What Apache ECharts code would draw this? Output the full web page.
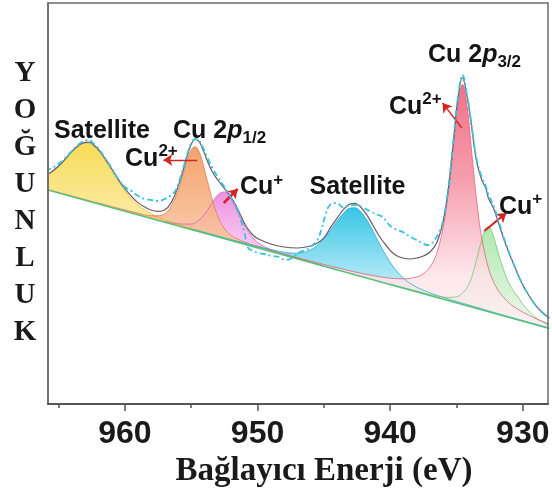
<!DOCTYPE html>
<html>
<head>
<meta charset="utf-8">
<script src="https://cdn.jsdelivr.net/npm/echarts@6.0.0/dist/echarts.min.js"></script>
<style>
  html, body { margin: 0; padding: 0; background: #ffffff; }
  #chart { width: 552px; height: 491px; }
</style>
</head>
<body>
<div id="chart"></div>
<script>
// Cu 2p core-level spectrum: binding energy (eV) against intensity (a.u.)

const majorTicks = [930, 940, 950, 960];
const minorTicks = [935, 945, 955, 965];

// Linear background under the fit
const background = [[966, 214.7], [928, 75.6]];

// Fitted components, [binding energy, intensity]
const satelliteHigh = [[966,227.8],[965.5,231.9],[965,237.5],[964.5,244.4],[964,251.6],[963.5,257.7],[963,260.8],[962.7,260.6],[962.4,258.6],[962,253.4],[961.5,244.2],[961,233.4],[960.5,222.7],[960,213.1],[959.5,205.1],[959,198.7],[958,189.9],[957,184.2],[956,179.8],[954,171.8],[950,156.6],[945,138.1]];

const cu2Half = [[966,215.1],[963,204.4],[961,197.5],[959,190.8],[958,188.3],[957.5,188.2],[957,190.4],[956.5,198.0],[956,213.4],[955.6,230.7],[955.2,248.0],[954.95,255.3],[954.7,257.3],[954.45,253.4],[954.2,244.3],[953.8,224.1],[953.4,203.8],[953,187.9],[952.5,175.4],[952,168.6],[951,162.0],[950,157.5],[948,149.5],[945,138.2]];

const cu1Half = [[957,182.7],[956,180.1],[955,179.9],[954.5,183.1],[954,189.8],[953.5,199.4],[953,209.0],[952.5,212.1],[952,205.3],[951.5,192.1],[951,178.8],[950.5,168.4],[950,161.6],[949,154.5],[948,149.8],[946,141.9],[944,134.4]];

const satelliteLow = [[955,175.0],[950,157.6],[948,151.8],[947,150.8],[946,154.3],[945.5,158.7],[945,165.4],[944.5,173.7],[944,183.0],[943.5,191.1],[943,196.0],[942.65,196.2],[942.3,193.4],[941.8,184.9],[941.3,173.1],[940.8,160.1],[940.3,148.2],[939.8,137.9],[939.3,129.8],[938.5,120.7],[937.5,113.8],[936,106.6],[934,98.7],[932,90.9],[930,83.4],[928,76.0]];

const cu2ThreeHalf = [[948,149.9],[944,136.3],[941,127.7],[939,125.2],[938,127.1],[937.5,130.3],[937,136.8],[936.5,150.3],[936,177.1],[935.6,213.4],[935.2,263.0],[934.9,299.9],[934.55,319.6],[934.2,297.3],[933.9,258.2],[933.5,205.7],[933.1,166.3],[932.6,136.4],[932.2,122.0],[931.8,112.5],[931.4,106.0],[931,100.6],[930.5,95.7],[930,91.9],[929,85.3],[928,80.0]];

const cu1ThreeHalf = [[940,119.9],[938,113.0],[936,106.9],[935.5,106.6],[935,107.2],[934.5,111.4],[934,121.6],[933.5,143.7],[933.1,164.3],[932.8,175.1],[932.6,177.4],[932.3,171.3],[931.96,156.1],[931.5,136.4],[931,119.6],[930.5,109.7],[930,99.9],[929.5,92.1],[929,86.3],[928.5,81.9],[928,78.6]];

// Sum of the fitted components
const envelope = [[966,228.5],[965.5,232.5],[965,238],[964.5,245],[964,252.4],[963.5,258.5],[963,261.7],[962.7,261.8],[962.4,259.5],[962,254.5],[961.5,245.4],[961,235.2],[960.5,224.7],[960,215.3],[959.5,207.6],[959,201.1],[958.5,196.9],[958,193.7],[957.5,192.6],[957,193.9],[956.5,201.6],[956,217.1],[955.6,234.3],[955.2,252.7],[954.95,261.1],[954.7,264.8],[954.45,263.2],[954.2,257.1],[953.8,243.6],[953.4,232.0],[953,224.0],[952.5,215.5],[952,207],[951.5,195],[951,181],[950.5,171],[950,165.5],[949,160],[948,157],[947,156],[946,158],[945.5,161],[945,166.2],[944.5,176.3],[944,185.8],[943.5,194.9],[943,200.1],[942.65,200.6],[942.3,198.0],[941.8,189.9],[941.3,178.7],[940.8,167.5],[940.3,158.5],[939.8,151],[939.3,147],[938.5,145],[938,146],[937.5,148],[937,152],[936.5,161],[936,183],[935.6,217.0],[935.2,266.3],[934.9,304.8],[934.55,326.4],[934.2,307.1],[933.9,281.4],[933.5,243.8],[933.1,224.3],[932.8,216.1],[932.6,206.2],[932.2,195.5],[931.8,179.7],[931.4,163.7],[931,149.7],[930.5,133.7],[930,118.9],[929.5,107.5],[929,98.2],[928.5,91.3],[928,86.1]];

// Measured spectrum
const measured = [[966,233],[965.5,236],[965,240],[964.5,246],[964,253],[963.5,259.5],[963,263.5],[962.7,264],[962.4,261],[962,255.5],[961.5,246],[961,236],[960.5,225],[960,217],[959.5,213],[959,208],[958.5,205],[958,204],[957.5,203],[957,205],[956.6,208],[956.2,213],[956,219],[955.6,236],[955.2,254],[954.95,262],[954.7,265],[954.45,264],[954.2,259],[953.8,247],[953.4,236],[953,227],[952.5,217],[952,206],[951.5,193],[951,172],[950.7,156],[950.3,153],[950,151],[949.5,150],[948.9,148],[948.4,147],[947.9,144],[947.4,146],[946.8,152],[946.4,154],[946,157],[945.5,164],[945.2,174],[944.9,188],[944.55,199],[944,201],[943.6,197],[943.2,198],[942.6,199],[942,196],[941.4,192],[940.9,189],[940.55,187],[940.2,181],[939.8,176],[939.4,174],[939.05,172],[938.6,168],[938.3,166],[937.6,161],[937.2,159],[936.9,160],[936.6,165],[936.3,172],[936,184],[935.6,218],[935.2,268],[934.9,306],[934.55,329],[934.2,309],[933.9,283],[933.5,246],[933.1,227],[932.8,218],[932.6,210],[932.2,198],[931.8,182],[931.4,165],[931,150],[930.5,134],[930,119],[929.5,108],[929,98],[928.5,91],[928,86]];

// Peak labels: [energy, intensity] anchor, rich text, alignment
const labelSpots = [
  { at: [961.73, 273], text: '{b|Satellite}', align: 'center' },
  { at: [956.37, 273], text: '{b|Cu 2}{i|p}{sub|1/2}', align: 'left' },
  { at: [959.99, 245], text: '{b|Cu}{sup|2+}', align: 'left' },
  { at: [951.32, 216.5], text: '{b|Cu}{sup|+}', align: 'left' },
  { at: [942.46, 217], text: '{b|Satellite}', align: 'center' },
  { at: [937.15, 349], text: '{b|Cu 2}{i|p}{sub|3/2}', align: 'left' },
  { at: [940.09, 297], text: '{b|Cu}{sup|2+}', align: 'left' },
  { at: [931.80, 197], text: '{b|Cu}{sup|+}', align: 'left' }
];

// Pointer arrows: from peak to label
const arrows = [
  { from: [954.55, 244], to: [957.1, 244], width: 1.3 },
  { from: [952.55, 201], to: [951.5, 215], width: 2.6 },
  { from: [934.6, 276], to: [936.05, 301], width: 1.3 },
  { from: [932.9, 173], to: [931.25, 191], width: 2.2 }
];

const textColor = '#141414';
const richText = {
  b:   { fontFamily: 'Liberation Sans', fontWeight: 'bold', fontSize: 25, color: textColor, lineHeight: 32, verticalAlign: 'middle' },
  i:   { fontFamily: 'Liberation Sans', fontWeight: 'bold', fontStyle: 'italic', fontSize: 25, color: textColor, lineHeight: 32, verticalAlign: 'middle' },
  sub: { fontFamily: 'Liberation Sans', fontWeight: 'bold', fontSize: 17, color: textColor, lineHeight: 17, verticalAlign: 'bottom' },
  sup: { fontFamily: 'Liberation Sans', fontWeight: 'bold', fontSize: 17, color: textColor, lineHeight: 14, verticalAlign: 'top' }
};

function grad(stops) {
  return { type: 'linear', x: 0, y: 0, x2: 0, y2: 1,
    colorStops: stops.map(s => ({ offset: s[0], color: s[1] })) };
}

function component(name, data, stops, lineColor, fillOpacity) {
  return {
    name, type: 'line', data, smooth: 0.4, symbol: 'none', z: 2,
    lineStyle: { color: lineColor, width: 1, opacity: 0.75 },
    areaStyle: { origin: 'start', opacity: fillOpacity, color: grad(stops) }
  };
}

const chart = echarts.init(document.getElementById('chart'), null, { renderer: 'canvas' });

chart.setOption({
  animation: false,
  backgroundColor: '#ffffff',
  grid: { left: 48, right: 4, top: 3, bottom: 87, show: true, borderColor: '#6b6b6b', borderWidth: 1.5, z: 10,
    outerBoundsMode: 'none', containLabel: false },
  xAxis: [
    {
      type: 'value', min: 928.1, max: 965.8, inverse: true, position: 'bottom', z: 10,
      axisLine: { show: true, lineStyle: { color: '#555', width: 2 } },
      axisTick: { show: true, customValues: majorTicks, length: 7, lineStyle: { color: '#555', width: 1.5 } },
      axisLabel: { show: true, customValues: majorTicks, margin: 14, color: '#1a1a1a',
        fontFamily: 'Liberation Sans', fontWeight: 'bold', fontSize: 32 },
      splitLine: { show: false },
      name: 'Bağlayıcı Enerji (eV)', nameLocation: 'middle', nameGap: 50,
      nameTextStyle: { fontFamily: 'Liberation Serif', fontWeight: 'bold', fontSize: 33, color: '#1a1a1a', padding: [0, 0, 0, 52] }
    },
    {
      type: 'value', min: 928.1, max: 965.8, inverse: true, position: 'bottom', z: 10,
      axisLine: { show: false },
      axisTick: { show: true, customValues: minorTicks, length: 4, lineStyle: { color: '#555', width: 1.5 } },
      axisLabel: { show: false },
      splitLine: { show: false }
    }
  ],
  yAxis: {
    type: 'value', min: 0, max: 401, z: 10,
    axisLine: { show: true, lineStyle: { color: '#6b6b6b', width: 1.5 } },
    axisTick: { show: false }, axisLabel: { show: false }, splitLine: { show: false },
    name: 'Y\nO\nĞ\nU\nN\nL\nU\nK', nameLocation: 'middle', nameRotate: 0, nameGap: 23,
    nameTextStyle: { fontFamily: 'Liberation Serif', fontWeight: 'bold', fontSize: 29, lineHeight: 37,
      color: '#1a1a1a', align: 'center', verticalAlign: 'middle' }
  },
  series: [
    component('Satellite (high)', satelliteHigh, [[0, '#f6d840'], [0.25, '#fbe68e'], [1, '#ffffff']], '#d8b52a', 0.88),
    component('Cu+ 2p1/2', cu1Half, [[0, '#ee82de'], [0.2, '#f4b6ec'], [1, '#ffffff']], '#cf5fbf', 0.88),
    component('Cu2+ 2p1/2', cu2Half, [[0, '#f3955a'], [0.35, '#f8c39c'], [1, '#ffffff']], '#de7a4e', 0.88),
    component('Satellite (low)', satelliteLow, [[0, '#1dbde2'], [0.35, '#a3e4f3'], [1, '#ffffff']], '#27a6cb', 0.88),
    component('Cu+ 2p3/2', cu1ThreeHalf, [[0, '#a6e4a6'], [0.5, '#e4f6e4'], [1, '#ffffff']], '#6cc470', 0.9),
    component('Cu2+ 2p3/2', cu2ThreeHalf, [[0, '#ef5872'], [0.3, '#f48ea0'], [0.6, '#fde4e8'], [1, '#ffffff']], '#e05a74', 0.85),
    {
      name: 'Background', type: 'line', data: background, symbol: 'none', z: 3,
      lineStyle: { color: '#55c07a', width: 1.6 },
      areaStyle: { origin: 'start', color: '#ffffff', opacity: 1 }
    },
    {
      name: 'Envelope', type: 'line', data: envelope, smooth: 0.4, symbol: 'none', z: 4,
      lineStyle: { color: '#6a5a68', width: 1.2 }
    },
    {
      name: 'Measured', type: 'line', data: measured, smooth: 0.4, symbol: 'none', z: 5,
      lineStyle: { color: '#38c2dc', width: 1.8, type: [6, 3, 2, 3] }
    },
    {
      name: 'Labels', type: 'scatter', symbolSize: 0, z: 6, silent: true,
      itemStyle: { opacity: 1 },
      data: labelSpots.map(s => ({
        value: s.at,
        label: { show: true, position: 'inside', align: s.align, verticalAlign: 'middle', formatter: s.text, rich: richText }
      })),
      markLine: {
        silent: true, symbol: ['none', 'arrow'], symbolSize: 9, animation: false,
        label: { show: false },
        lineStyle: { color: '#d42424', type: 'solid', width: 1.3 },
        data: arrows.map(a => [
          { coord: a.from, lineStyle: { color: '#d42424', type: 'solid', width: a.width } },
          { coord: a.to }
        ])
      }
    }
  ]
});
</script>
</body>
</html>
